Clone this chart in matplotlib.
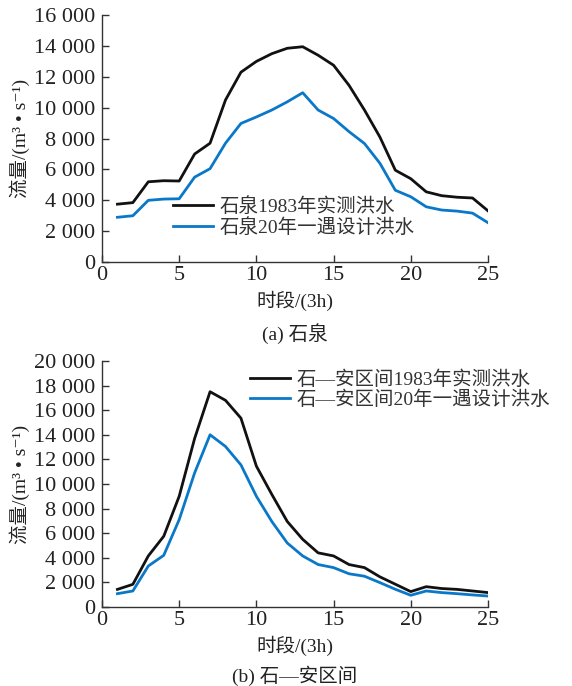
import matplotlib
matplotlib.use("Agg")
import matplotlib.pyplot as plt
from matplotlib.ticker import FuncFormatter

plt.rcParams['font.family'] = ['Liberation Serif', 'Noto Sans CJK SC', 'DejaVu Sans']

# time periods (3h)
periods = list(range(1, 26))

# (a) 石泉
sq_1983 = [3750, 3850, 5200, 5270, 5250, 7000, 7700, 10500, 12300, 13000,
           13500, 13850, 13950, 13400, 12750, 11450, 9850, 8100, 5950, 5400,
           4550, 4300, 4200, 4150, 3320]
sq_design = [2900, 3000, 4000, 4080, 4100, 5500, 6050, 7700, 8980, 9400,
             9850, 10380, 10970, 9850, 9300, 8450, 7680, 6400, 4650, 4230,
             3580, 3370, 3300, 3170, 2550]

# (b) 石—安区间
sa_1983 = [1430, 1840, 4150, 5750, 9000, 13700, 17500, 16800, 15350, 11450,
           9150, 6950, 5500, 4400, 4150, 3450, 3200, 2450, 1850, 1250,
           1650, 1500, 1430, 1300, 1170]
sa_design = [1080, 1300, 3330, 4200, 7100, 10900, 14000, 13050, 11550, 9000,
             6950, 5200, 4150, 3450, 3200, 2700, 2500, 1980, 1440, 950,
             1300, 1170, 1080, 980, 890]

labels_a = ['石泉1983年实测洪水', '石泉20年一遇设计洪水']
labels_b = ['石—安区间1983年实测洪水', '石—安区间20年一遇设计洪水']
captions = ['(a) 石泉', '(b) 石—安区间']

black = '#111111'
blue = '#0a78c8'
fs_tick = 16
fs = 14

fig = plt.figure(figsize=(5.72, 6.86), dpi=100)
ax1 = fig.add_axes([0.1783, 0.618, 0.6748, 0.360])
ax2 = fig.add_axes([0.1783, 0.1152, 0.6748, 0.3586])

thousands = FuncFormatter(lambda v, p: '0' if v == 0 else '{:,.0f}'.format(v).replace(',', ' '))

def style(ax, ymax, step, labels, caption, legend_pos, cap_y):
    ax.set_xlim(0, 25)
    ax.set_ylim(0, ymax)
    ax.set_xticks(range(0, 26, 5))
    ax.set_yticks(range(0, ymax + 1, step))
    ax.yaxis.set_major_formatter(thousands)
    for s in ['top', 'right']:
        ax.spines[s].set_visible(False)
    for s in ['left', 'bottom']:
        ax.spines[s].set_linewidth(1.0)
        ax.spines[s].set_color('#333333')
    ax.tick_params(direction='in', length=5, width=1.0, labelsize=fs_tick, colors='#333333',
                   labelcolor='#222222')
    ax.tick_params(axis='x', pad=3)
    ax.tick_params(axis='y', pad=5)
    ax.set_xlabel('时段/(3h)', fontsize=fs, color='#222222', labelpad=4)
    ax.set_ylabel('流量/(m³ • s⁻¹)', fontsize=fs, color='#222222', labelpad=3)
    leg = ax.legend(labels, loc='upper left', bbox_to_anchor=legend_pos, frameon=False,
                    fontsize=fs, handlelength=2.05, handletextpad=0.36,
                    labelspacing=0.1, borderaxespad=0, borderpad=0)
    for t in leg.get_texts():
        t.set_color('#333333')
    ax.text(0.5, cap_y, caption, transform=ax.transAxes, ha='center', va='center',
            fontsize=fs, color='#222222')

ax1.plot(periods, sq_1983, color=black, lw=2.0, solid_joinstyle='round')
ax1.plot(periods, sq_design, color=blue, lw=2.0, solid_joinstyle='round')
style(ax1, 16000, 2000, labels_a, captions[0], (0.184, 0.262), -0.29)

ax2.plot(periods, sa_1983, color=black, lw=2.0, solid_joinstyle='round')
ax2.plot(periods, sa_design, color=blue, lw=2.0, solid_joinstyle='round')
style(ax2, 20000, 2000, labels_b, captions[1], (0.383, 0.962), -0.28)

fig.savefig('out.png', dpi=100)
